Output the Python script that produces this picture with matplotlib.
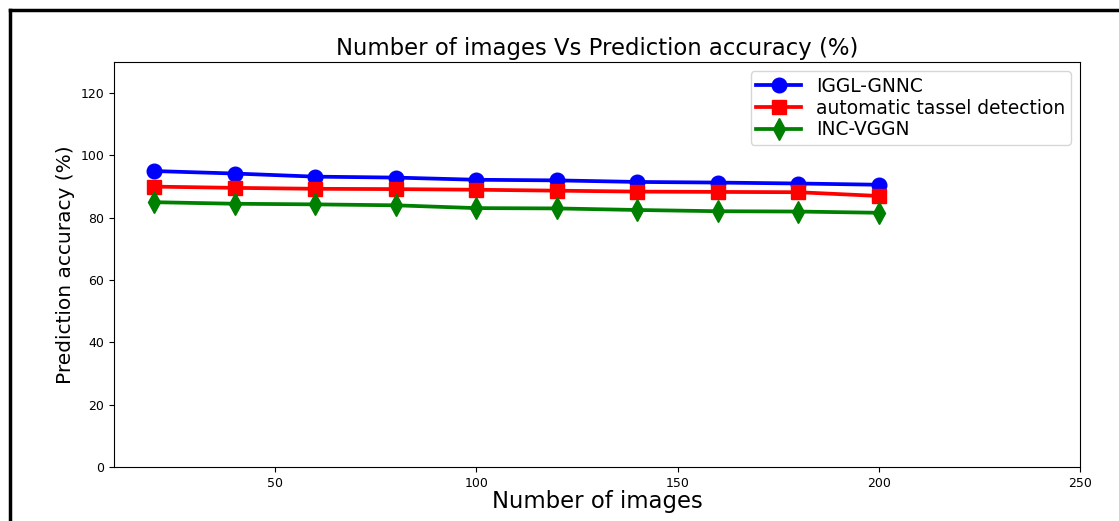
import numpy as np
import matplotlib.pyplot as plt
from matplotlib.lines import Line2D

# number of images
images = [20, 40, 60, 80, 100, 120, 140, 160, 180, 200]

# prediction accuracy (%) per method
acc_iggl = [95.0, 94.2, 93.2, 92.9, 92.2, 92.0, 91.5, 91.3, 91.0, 90.6]
acc_tassel = [90.0, 89.6, 89.3, 89.2, 89.0, 88.7, 88.4, 88.3, 88.2, 87.0]
acc_incvggn = [85.0, 84.5, 84.3, 84.0, 83.1, 83.0, 82.5, 82.1, 82.0, 81.6]


def main():
    fig = plt.figure(figsize=(11.19, 5.21), dpi=100)
    ax = fig.add_axes([114 / 1119, 1 - 467 / 521, (1080 - 114) / 1119, (467 - 62) / 521])

    ax.plot(images, acc_iggl, color='blue', marker='o', markersize=10.5, linewidth=2.7, label='IGGL-GNNC')
    ax.plot(images, acc_tassel, color='red', marker='s', markersize=10, linewidth=2.7, label='automatic tassel detection')
    ax.plot(images, acc_incvggn, color='green', marker='d', markersize=11, linewidth=2.7, label='INC-VGGN')

    ax.set_xlim(10, 250)
    ax.set_ylim(0, 130)
    ax.set_xticks([50, 100, 150, 200, 250])
    ax.set_yticks([0, 20, 40, 60, 80, 100, 120])
    ax.tick_params(labelsize=9)

    ax.set_title('Number of images Vs Prediction accuracy (%)', fontsize=16.4, pad=5)
    ax.set_xlabel('Number of images', fontsize=16.4, labelpad=0)
    ax.set_ylabel('Prediction accuracy (%)', fontsize=14.5)
    ax.legend(loc='upper right', fontsize=13.4, handlelength=2.4, borderpad=0.3, labelspacing=0.15)

    # page frame around the figure
    fig.add_artist(Line2D([10 / 1119, 10 / 1119], [0, 1 - 10 / 521], color='black', linewidth=2.5))
    fig.add_artist(Line2D([10 / 1119, 1], [1 - 10 / 521, 1 - 10 / 521], color='black', linewidth=2.5))

    fig.savefig('out.png', dpi=100)


if __name__ == '__main__':
    main()
